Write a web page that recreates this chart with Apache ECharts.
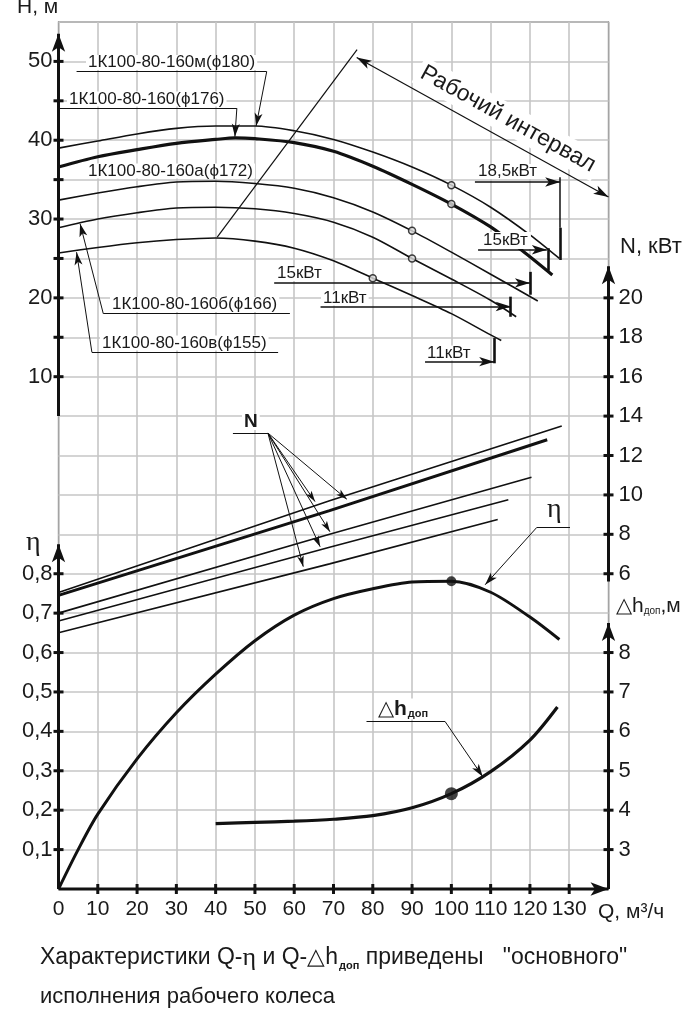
<!DOCTYPE html>
<html>
<head>
<meta charset="utf-8">
<script src="https://cdn.jsdelivr.net/npm/echarts@6/dist/echarts.min.js"></script>
<style>
  html, body { margin: 0; padding: 0; background: #fff; }
  #chart { width: 697px; height: 1024px; }
</style>
</head>
<body>
<div id="chart"></div>
<script>
// Напор H, м (5 колёс)
const qA = [0, 10, 20, 30, 40, 50, 60, 70, 80, 90, 100, 110, 120, 127.5];
const hA = [39.0, 39.9, 40.8, 41.5, 41.8, 41.8, 41.2, 40.1, 38.5, 36.6, 34.3, 31.5, 28.0, 25.0];
const qB = [0, 10, 20, 30, 40, 45, 50, 60, 70, 80, 90, 100, 110, 118, 125.7];
const hB = [36.6, 37.9, 38.8, 39.6, 40.1, 40.3, 40.2, 39.7, 38.6, 36.7, 34.4, 31.9, 29.0, 26.0, 22.9];
const qC = [0, 10, 20, 30, 40, 50, 60, 70, 80, 90, 100, 110, 122];
const hC = [32.4, 33.3, 34.1, 34.7, 34.8, 34.5, 33.9, 32.7, 30.9, 28.5, 25.8, 23.0, 19.6];
const qD = [0, 10, 20, 30, 40, 50, 60, 70, 80, 90, 100, 110, 116.5];
const hD = [28.9, 30.0, 30.8, 31.4, 31.5, 31.3, 30.7, 29.6, 27.7, 25.0, 22.4, 19.7, 17.6];
const qE = [0, 10, 20, 30, 40, 50, 60, 70, 80, 90, 100, 110, 112.7];
const hE = [25.7, 26.4, 27.0, 27.4, 27.6, 27.2, 26.3, 24.7, 22.5, 20.3, 18.0, 15.3, 14.6];
const bepQ = [100, 100, 90, 90, 80];

// Мощность N, кВт
const qNA = [0, 69, 128.1], nA = [5.05, 9.7, 13.5];
const qNB = [0, 69, 124.4], nB = [4.9, 9.2, 12.8];
const qNC = [0, 69, 120.4], nC = [4.0, 8.0, 10.9];
const qND = [0, 69, 114.5], nD = [3.6, 7.34, 9.75];
const qNE = [0, 69, 111.8], nE = [3.0, 6.5, 8.75];

// КПД и допускаемый кавитационный запас
const qEta = [0, 5, 10, 20, 30, 40, 50, 60, 70, 80, 90, 100, 110, 120, 127.5];
const eta = [0, 0.1, 0.19, 0.33, 0.447, 0.545, 0.63, 0.695, 0.737, 0.762, 0.779, 0.781, 0.753, 0.69, 0.633];
const qDh = [40, 50, 60, 70, 80, 90, 100, 110, 120, 127];
const dh = [3.66, 3.69, 3.72, 3.77, 3.86, 4.06, 4.42, 4.98, 5.78, 6.62];
const etaBepQ = 100, dhBepQ = 100;

// Деления осей
const qTicks = [10, 20, 30, 40, 50, 60, 70, 80, 90, 100, 110, 120, 130];
const qLabels = [0, 10, 20, 30, 40, 50, 60, 70, 80, 90, 100, 110, 120, 130];
const hTicks = [10, 15, 20, 25, 30, 35, 40, 45, 50];
const hLabels = [10, 20, 30, 40, 50];
const etaTicks = [0.1, 0.2, 0.3, 0.4, 0.5, 0.6, 0.7, 0.8];
const nTicks = [6, 8, 10, 12, 14, 16, 18, 20];
const dhTicks = [3, 4, 5, 6, 7, 8];
const hSpan = [5, 53.5], etaSpan = [0, 0.875], nSpan = [5.6, 21.6], dhSpan = [2, 8.75];

// Рабочий интервал и отметки мощности двигателя (Q, H)
const workLeft = [[40.4, 27.7], [76.0, 51.5]];
const workRight = [[110.9, 14.8], [141.3, 33.6]];
const workArrow = [[75.9, 50.5], [140.0, 32.8]];
const motorMarks = [[127.7, 35.3, 28.9, 24.8], [124.7, 26.3, 26.3, 23.45], [120.0, 23.3, 23.3, 20.4], [115.1, 20.15, 20.15, 17.6], [110.9, 14.9, 14.9, 11.7]];
const motorArrows = [[106.0, 127.7, 34.7], [106.8, 124.3, 26.1], [54.9, 120.0, 21.9], [66.7, 115.1, 18.9], [93.3, 110.9, 11.9]];
const motorNames = ['18,5кВт', '15кВт', '15кВт', '11кВт', '11кВт'];
const curveNames = ['1К100-80-160м(ϕ180)', '1К100-80-160(ϕ176)', '1К100-80-160а(ϕ172)', '1К100-80-160б(ϕ166)', '1К100-80-160в(ϕ155)'];
// выноски к кривым: полка и стрелка
const leaderA = [[4.6, 48.7], [53.0, 48.7], [50.3, 41.8]];
const leaderB = [[0, 44.05], [45.4, 44.05], [44.9, 40.45]];
const leaderD = [[58.9, 18.0], [11.4, 18.0], [5.5, 29.4]];
const leaderE = [[55.9, 13.1], [8.5, 13.1], [4.6, 25.8]];
// выноска N (Q, N)
const nShelf = [[44.4, 13.14], [53.3, 13.14]];
const nTips = [[73.4, 9.78], [65.3, 9.66], [69.1, 8.13], [66.6, 7.37], [62.3, 6.36]];
const etaLeader = [[130.2, 0.917], [121.7, 0.917], [108.6, 0.772]];
const dhLeader = [[78.4, 6.25], [98.4, 6.25], [108.0, 4.85]];

const INK = '#111';
const FONT = '"Liberation Sans", Arial, sans-serif';
const NARROW = '"Liberation Sans Narrow", "Liberation Sans", sans-serif';
const pair = (xs, ys) => xs.map((x, i) => [x, ys[i]]);
const at = (xs, ys, x) => ys[xs.indexOf(x)];

function seg(a, b, arrow, w, size) {
  return [
    { coord: a, symbol: 'none' },
    { coord: b, symbol: arrow ? 'arrow' : 'none', symbolSize: size || [6, 13],
      lineStyle: { color: INK, width: w || 1, type: 'solid' } }
  ];
}
function leader(p, w) {
  return [seg(p[0], p[1], false, w || 1.2), seg(p[1], p[2], true, 1)];
}
function marks(list) {
  return { silent: true, animation: false, symbol: 'none', label: { show: false },
    emphasis: { disabled: true }, lineStyle: { color: INK, width: 1, type: 'solid' }, data: list };
}
function vAxis(yIdx, q, span, ticks, ml) {
  const pts = [{ value: [q, span[0]], symbol: 'none' }];
  ticks.forEach(t => pts.push({ value: [q, t], symbol: 'rect', symbolSize: [10, 3] }));
  pts.push({ value: [q, span[1]], symbol: 'arrow', symbolSize: [10, 18] });
  return { type: 'line', yAxisIndex: yIdx, data: pts, showAllSymbol: true, clip: false, silent: true,
    lineStyle: { color: INK, width: 3 }, itemStyle: { color: INK }, z: 6, markLine: ml };
}
function curve(xs, ys, yIdx, w) {
  return { type: 'line', yAxisIndex: yIdx, data: pair(xs, ys), smooth: 0.3, showSymbol: false,
    silent: true, lineStyle: { color: INK, width: w }, z: 4 };
}

const hCurves = [[qA, hA, 1.6], [qB, hB, 3.2], [qC, hC, 1.6], [qD, hD, 1.6], [qE, hE, 1.6]];
const nLines = [[qNA, nA, 1.6], [qNB, nB, 3], [qNC, nC, 1.6], [qND, nD, 1.6], [qNE, nE, 1.6]];

const hMarks = [];
hMarks.push(seg(workLeft[0], workLeft[1], false, 1.2));
hMarks.push(seg(workRight[0], workRight[1], false, 1.2));
hMarks.push([{ coord: workArrow[0], symbol: 'arrow', symbolSize: [7, 15] },
  { coord: workArrow[1], symbol: 'arrow', symbolSize: [7, 15], lineStyle: { color: INK, width: 1.2, type: 'solid' } }]);
motorMarks.forEach(m => {
  if (m[1] !== m[2]) hMarks.push(seg([m[0], m[1]], [m[0], m[2]], false, 1.5));
  hMarks.push(seg([m[0], m[2]], [m[0], m[3]], false, 2.6));
});
motorArrows.forEach(a => hMarks.push(seg([a[0], a[2]], [a[1], a[2]], true, 1.5, [7, 15])));
[leaderA, leaderB, leaderD, leaderE].forEach(p => leader(p).forEach(s => hMarks.push(s)));

const nMarks = [seg(nShelf[0], nShelf[1], false, 1.2)];
nTips.forEach(t => nMarks.push(seg(nShelf[1], t, true, 1, [5, 11])));
const etaMarks = leader(etaLeader);
const dhMarks = leader(dhLeader);

const series = [];
hCurves.forEach(c => series.push(curve(c[0], c[1], 0, c[2])));
series.push({ type: 'scatter', yAxisIndex: 0, silent: true, z: 5, symbolSize: 7,
  data: hCurves.map((c, i) => [bepQ[i], at(c[0], c[1], bepQ[i])]),
  itemStyle: { color: '#ddd', borderColor: INK, borderWidth: 1.5 } });
nLines.forEach(c => series.push({ type: 'line', yAxisIndex: 2, data: pair(c[0], c[1]), showSymbol: false,
  silent: true, lineStyle: { color: INK, width: c[2] }, z: 4 }));
series.push(curve(qEta, eta, 1, 3));
series.push(curve(qDh, dh, 3, 3.2));
series.push({ type: 'scatter', yAxisIndex: 1, silent: true, z: 5, symbolSize: 10,
  data: [[etaBepQ, at(qEta, eta, etaBepQ)]], itemStyle: { color: INK } });
series.push({ type: 'scatter', yAxisIndex: 3, silent: true, z: 5, symbolSize: 13,
  data: [[dhBepQ, at(qDh, dh, dhBepQ)]], itemStyle: { color: INK } });

// оси
series.push(vAxis(0, 0, hSpan, hTicks, marks(hMarks)));
series.push(vAxis(1, 0, etaSpan, etaTicks, marks(etaMarks)));
series.push(vAxis(2, 140, nSpan, nTicks, marks(nMarks)));
series.push(vAxis(3, 140, dhSpan, dhTicks, marks(dhMarks)));
series.push({ type: 'line', yAxisIndex: 1, showAllSymbol: true, clip: false, silent: true, z: 6,
  data: [{ value: [0, 0], symbol: 'none' }]
    .concat(qTicks.map(q => ({ value: [q, 0], symbol: 'rect', symbolSize: [3, 10] })))
    .concat([{ value: [140, 0], symbol: 'arrow', symbolSize: [10, 18], symbolRotate: -90 }]),
  lineStyle: { color: INK, width: 3 }, itemStyle: { color: INK } });

const tickLabel = { color: '#1a1a1a', fontSize: 22, fontFamily: FONT };
const yBase = { type: 'value', axisLine: { show: false }, axisTick: { show: false }, splitLine: { show: false } };

function label(text, x, y, size, pad) {
  return { type: 'text', x: x, y: y, z: 100, silent: true,
    style: { text: text, fill: '#1a1a1a', fontSize: size, fontFamily: FONT, verticalAlign: 'middle',
      lineHeight: 15, backgroundColor: '#fff', padding: pad || [0, 2] } };
}
function plain(text, x, y, size, family, weight) {
  return { type: 'text', x: x, y: y, z: 100, silent: true,
    style: { text: text, fill: '#1a1a1a', fontSize: size, fontFamily: family || FONT,
      fontWeight: weight || 'normal', verticalAlign: 'middle' } };
}
const rich = {
  a: { fontSize: 21, fontFamily: FONT, fill: '#1a1a1a' },
  c: { fontSize: 23, fontFamily: FONT, fill: '#1a1a1a' },
  b: { fontSize: 21, fontFamily: FONT, fontWeight: 'bold', fill: '#1a1a1a' },
  s: { fontSize: 11, fontFamily: FONT, fontWeight: 'bold', fill: '#1a1a1a', verticalAlign: 'bottom', padding: [0, 0, 0, 1] },
  t: { fontSize: 10, fontFamily: FONT, fill: '#1a1a1a', verticalAlign: 'bottom' },
  e: { fontSize: 26, fontFamily: '"Liberation Serif", serif', fill: '#1a1a1a' }
};

const graphics = [
  plain('H, м', 17, 7, 21),
  label(curveNames[0], 86, 62.5, 17),
  label(curveNames[1], 67, 99, 17),
  label(curveNames[2], 86, 171, 17),
  label(curveNames[3], 110, 304.5, 17),
  label(curveNames[4], 100, 343, 17),
  label(motorNames[0], 476, 171.5, 17),
  label(motorNames[1], 480, 240.5, 17, [1, 3]),
  label(motorNames[2], 275, 273.5, 17),
  label(motorNames[3], 321, 298, 17),
  label(motorNames[4], 425, 353, 17),
  { type: 'text', x: 508, y: 119, rotation: -0.506, z: 100, silent: true,
    style: { text: 'Рабочий интервал', fill: '#1a1a1a', fontSize: 23, fontFamily: FONT,
      align: 'center', verticalAlign: 'middle', backgroundColor: '#fff', padding: [3, 4] } },
  plain('N, кВт', 620, 246.5, 22),
  { type: 'text', x: 242, y: 422, z: 100, silent: true,
    style: { text: 'N', fill: '#1a1a1a', fontSize: 19, fontWeight: 'bold', fontFamily: FONT,
      verticalAlign: 'middle', lineHeight: 16, backgroundColor: '#fff', padding: [0, 2] } },
  { type: 'text', x: 547, y: 510, z: 100, silent: true,
    style: { text: 'η', fill: '#1a1a1a', fontSize: 28, fontFamily: '"Liberation Serif", serif',
      verticalAlign: 'middle', lineHeight: 28, backgroundColor: '#fff' } },
  plain('η', 26, 543, 28, '"Liberation Serif", serif'),
  { type: 'text', x: 616, y: 606, z: 100, silent: true,
    style: { text: '{a|△h}{t|доп}{a|,м}', rich: rich, verticalAlign: 'middle' } },
  { type: 'text', x: 376, y: 709, z: 100, silent: true,
    style: { text: '{a|△}{b|h}{s|доп}', rich: rich, verticalAlign: 'middle', backgroundColor: '#fff', padding: [0, 2] } },
  plain('Q, м³/ч', 598, 912, 21, NARROW),
  { type: 'text', x: 40, y: 958, z: 100, silent: true,
    style: { text: '{c|Характеристики Q-}{e|η}{c| и Q-△h}{s|доп}{c| приведены   "основного"}', rich: rich, verticalAlign: 'middle' } },
  plain('исполнения рабочего колеса', 40, 997, 22)
];

const myChart = echarts.init(document.getElementById('chart'));
myChart.setOption({
  animation: false,
  backgroundColor: '#fff',
  grid: { left: 58.5, top: 22, width: 550, height: 867, show: true, borderColor: '#222', borderWidth: 1.2 },
  xAxis: {
    type: 'value', min: 0, max: 140, interval: 10,
    axisLine: { show: false }, axisTick: { show: false },
    splitLine: { show: true, lineStyle: { color: '#c6c6c6', width: 1.6 } },
    axisLabel: { margin: 10, color: '#1a1a1a', fontSize: 21, fontFamily: NARROW,
      formatter: v => qLabels.indexOf(v) >= 0 ? String(v) : '' }
  },
  yAxis: [
    Object.assign({}, yBase, { position: 'left', min: -55, max: 55, interval: 5,
      splitLine: { show: true, lineStyle: { color: '#c6c6c6', width: 1.6 } },
      axisLabel: Object.assign({ margin: 6, formatter: v => hLabels.indexOf(v) >= 0 ? String(v) : '' }, tickLabel) }),
    Object.assign({}, yBase, { position: 'left', min: 0, max: 2.2, interval: 0.1,
      axisLabel: Object.assign({ margin: 6, formatter: v => {
        const r = Math.round(v * 10) / 10;
        return etaTicks.indexOf(r) >= 0 ? r.toFixed(1).replace('.', ',') : '';
      } }, tickLabel) }),
    Object.assign({}, yBase, { position: 'right', min: -10, max: 34, interval: 2,
      axisLabel: Object.assign({ margin: 10, formatter: v => nTicks.indexOf(v) >= 0 ? String(v) : '' }, tickLabel) }),
    Object.assign({}, yBase, { position: 'right', min: 2, max: 24, interval: 1,
      axisLabel: Object.assign({ margin: 10, formatter: v => dhTicks.indexOf(v) >= 0 ? String(v) : '' }, tickLabel) })
  ],
  series: series,
  graphic: graphics
});
</script>
</body>
</html>
